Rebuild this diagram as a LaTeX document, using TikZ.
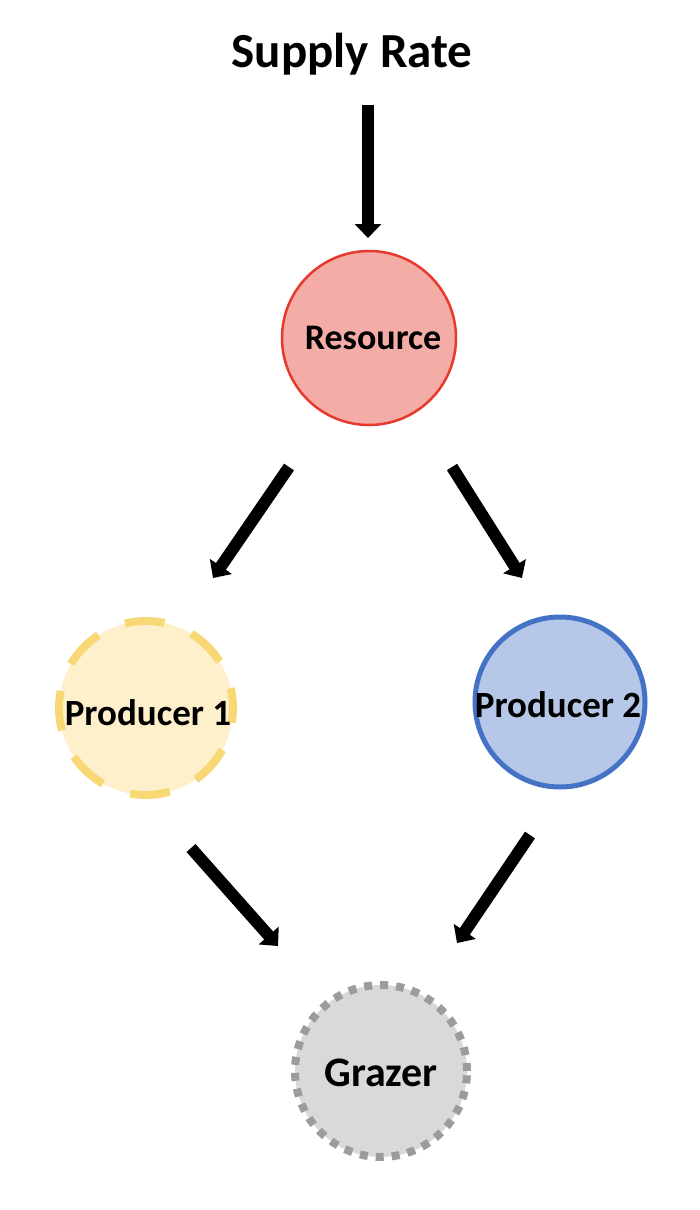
\documentclass[tikz,border=0pt]{standalone}
\usepackage{fontspec}
\setmainfont{Carlito}
\usetikzlibrary{arrows.meta}
\definecolor{resfill}{HTML}{F4ACA6}
\definecolor{resline}{HTML}{E8392E}
\definecolor{pafill}{HTML}{FEF0CB}
\definecolor{paline}{HTML}{F8D775}
\definecolor{pbfill}{HTML}{B6C7E8}
\definecolor{pbline}{HTML}{4472C4}
\definecolor{gfill}{HTML}{D9D9D9}
\definecolor{gline}{HTML}{9C9C9C}
\tikzset{
  circ/.style={circle, inner sep=0pt, minimum size=#1},
  lbl/.style={font=\bfseries\fontsize{36}{42}\selectfont, inner sep=0pt, text=black},
  arr/.style={line width=12pt, draw=black, -{Triangle[width=26pt,length=14pt]}},
}
\begin{document}
\begin{tikzpicture}[x=1pt,y=-1pt]
\useasboundingbox (0,0) rectangle (700,1210);
\node[font=\bfseries\fontsize{49}{58}\selectfont, inner sep=0pt] (supply) at (352,54) {Supply Rate};
\node[circ=174pt, fill=resfill, draw=resline, line width=2.5pt] (res) at (369,338) {};
\node[lbl, font=\bfseries\fontsize{36}{42}\selectfont] (restxt) at (373,338) {Resource};
\node[circ=174pt, fill=pafill, draw=paline, line width=8pt, dash pattern=on 40pt off 29pt, dash phase=20pt] (p1) at (146,708) {};
\node[lbl, font=\bfseries\fontsize{37}{42}\selectfont] (p1txt) at (148,713) {Producer 1};
\node[circ=170pt, fill=pbfill, draw=pbline, line width=5pt] (p2) at (560,702) {};
\node[lbl, font=\bfseries\fontsize{37}{42}\selectfont] (p2txt) at (558,705) {Producer 2};
\node[circ=172pt, fill=gfill, draw=gline, line width=8pt, dash pattern=on 8pt off 8pt] (g) at (381,1071) {};
\node[lbl, font=\bfseries\fontsize{42}{48}\selectfont] (gtxt) at (381,1073) {Grazer};
\draw[arr] ([shift={(16,51)}]supply.center) -- ([shift={(-1,-100)}]res.center);
\draw[arr] ([shift={(-80,129)}]res.center) -- ([shift={(67,-130)}]p1.center);
\draw[arr] ([shift={(83,129)}]res.center) -- ([shift={(-38,-124)}]p2.center);
\draw[arr] ([shift={(45,140)}]p1.center) -- ([shift={(-103,-125)}]g.center);
\draw[arr] ([shift={(-30,133)}]p2.center) -- ([shift={(76,-128)}]g.center);
\end{tikzpicture}
\end{document}
